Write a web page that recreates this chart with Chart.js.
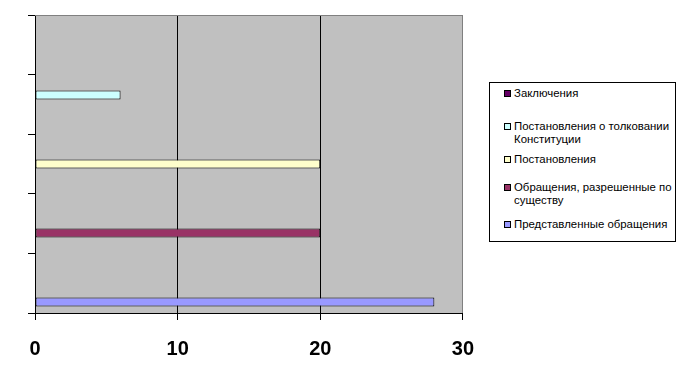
<!DOCTYPE html>
<html>
<head>
<meta charset="utf-8">
<script src="https://cdn.jsdelivr.net/npm/chart.js@4"></script>
<style>
  html, body { margin: 0; padding: 0; background: #fff; }
  #wrap { position: relative; width: 682px; height: 382px; overflow: hidden; }
  #chart { position: absolute; left: 0; top: 0; }
  #legend {
    position: absolute; left: 489px; top: 82px; width: 187px; height: 160px;
    border: 1px solid #000; box-sizing: border-box; background: #fff;
    font-family: Arial, "Liberation Sans", sans-serif; font-size: 11.4px; color: #000;
  }
  .item { position: absolute; left: 14px; right: 0; line-height: 13px; padding-left: 10px; }
  .item .sw {
    position: absolute; left: 0; top: 3px; width: 7px; height: 7px;
    border: 1px solid #000; box-sizing: border-box;
  }
</style>
</head>
<body>
<div id="wrap">
  <canvas id="chart" width="491" height="382"></canvas>
  <div id="legend"></div>
</div>
<script>
// series, top to bottom as in the legend
const seriesNames = [
  "Заключения",
  "Постановления о толковании Конституции",
  "Постановления",
  "Обращения, разрешенные по существу",
  "Представленные обращения",
];
const seriesValues = [0, 6, 20, 20, 28];
const seriesColors = ["#660066", "#CCFFFF", "#FFFFCC", "#993366", "#9999FF"];
const categories = ["", "", "", "", ""];
const xTicks = [0, 10, 20, 30];

const legendTops = [4, 37, 70, 98, 135];

function buildDatasets() {
  return seriesNames.map((name, i) => ({
    label: name,
    data: categories.map((_, j) => (j === i ? seriesValues[i] : null)),
    backgroundColor: seriesColors[i],
    borderColor: "#000",
    borderWidth: (ctx) => (ctx.raw ? 1 : 0),
    borderSkipped: false,
    categoryPercentage: 0.79,
    barPercentage: 0.96,
  }));
}

const plotBg = {
  id: "plotBg",
  beforeDraw(chart) {
    const { ctx, chartArea: a } = chart;
    ctx.save();
    ctx.fillStyle = "#C0C0C0";
    ctx.fillRect(a.left, a.top, a.right - a.left, a.bottom - a.top);
    ctx.restore();
  },
  afterDatasetsDraw(chart) {
    const { ctx, chartArea: a } = chart;
    ctx.save();
    ctx.strokeStyle = "#808080";
    ctx.lineWidth = 1;
    ctx.beginPath();
    ctx.moveTo(a.left, Math.round(a.top) + 0.5);
    ctx.lineTo(a.right, Math.round(a.top) + 0.5);
    ctx.stroke();
    ctx.restore();
  },
};

function renderLegend() {
  const el = document.getElementById("legend");
  el.innerHTML = seriesNames
    .map(
      (n, i) =>
        `<div class="item" style="top:${legendTops[i]}px"><span class="sw" style="background:${seriesColors[i]}"></span>${n}</div>`
    )
    .join("");
}

new Chart(document.getElementById("chart"), {
  type: "bar",
  data: { labels: categories, datasets: buildDatasets() },
  options: {
    indexAxis: "y",
    responsive: false,
    animation: false,
    layout: { padding: { top: 15, right: 0, left: 0, bottom: 0 } },
    plugins: { legend: { display: false }, tooltip: { enabled: false } },
    scales: {
      x: {
        min: 0,
        max: 30,
        afterBuildTicks: (s) => { s.ticks = xTicks.map((v) => ({ value: v })); },
        afterFit: (s) => { s.height = 69; },
        ticks: {
          color: "#000",
          padding: 17,
          font: { family: 'Arial, "Liberation Sans", sans-serif', size: 20, weight: "bold" },
        },
        grid: {
          color: (ctx) => (ctx.tick && ctx.tick.value === 30 ? "#808080" : "#000"),
          tickColor: "#000",
          tickLength: 7,
        },
        border: { color: "#000" },
      },
      y: {
        afterFit: (s) => { s.width = 35; },
        ticks: { display: false },
        grid: { drawOnChartArea: false, tickLength: 7, tickColor: "#000", color: "#000", offset: true },
        border: { color: "#000" },
      },
    },
  },
  plugins: [plotBg],
});

renderLegend();
</script>
</body>
</html>
